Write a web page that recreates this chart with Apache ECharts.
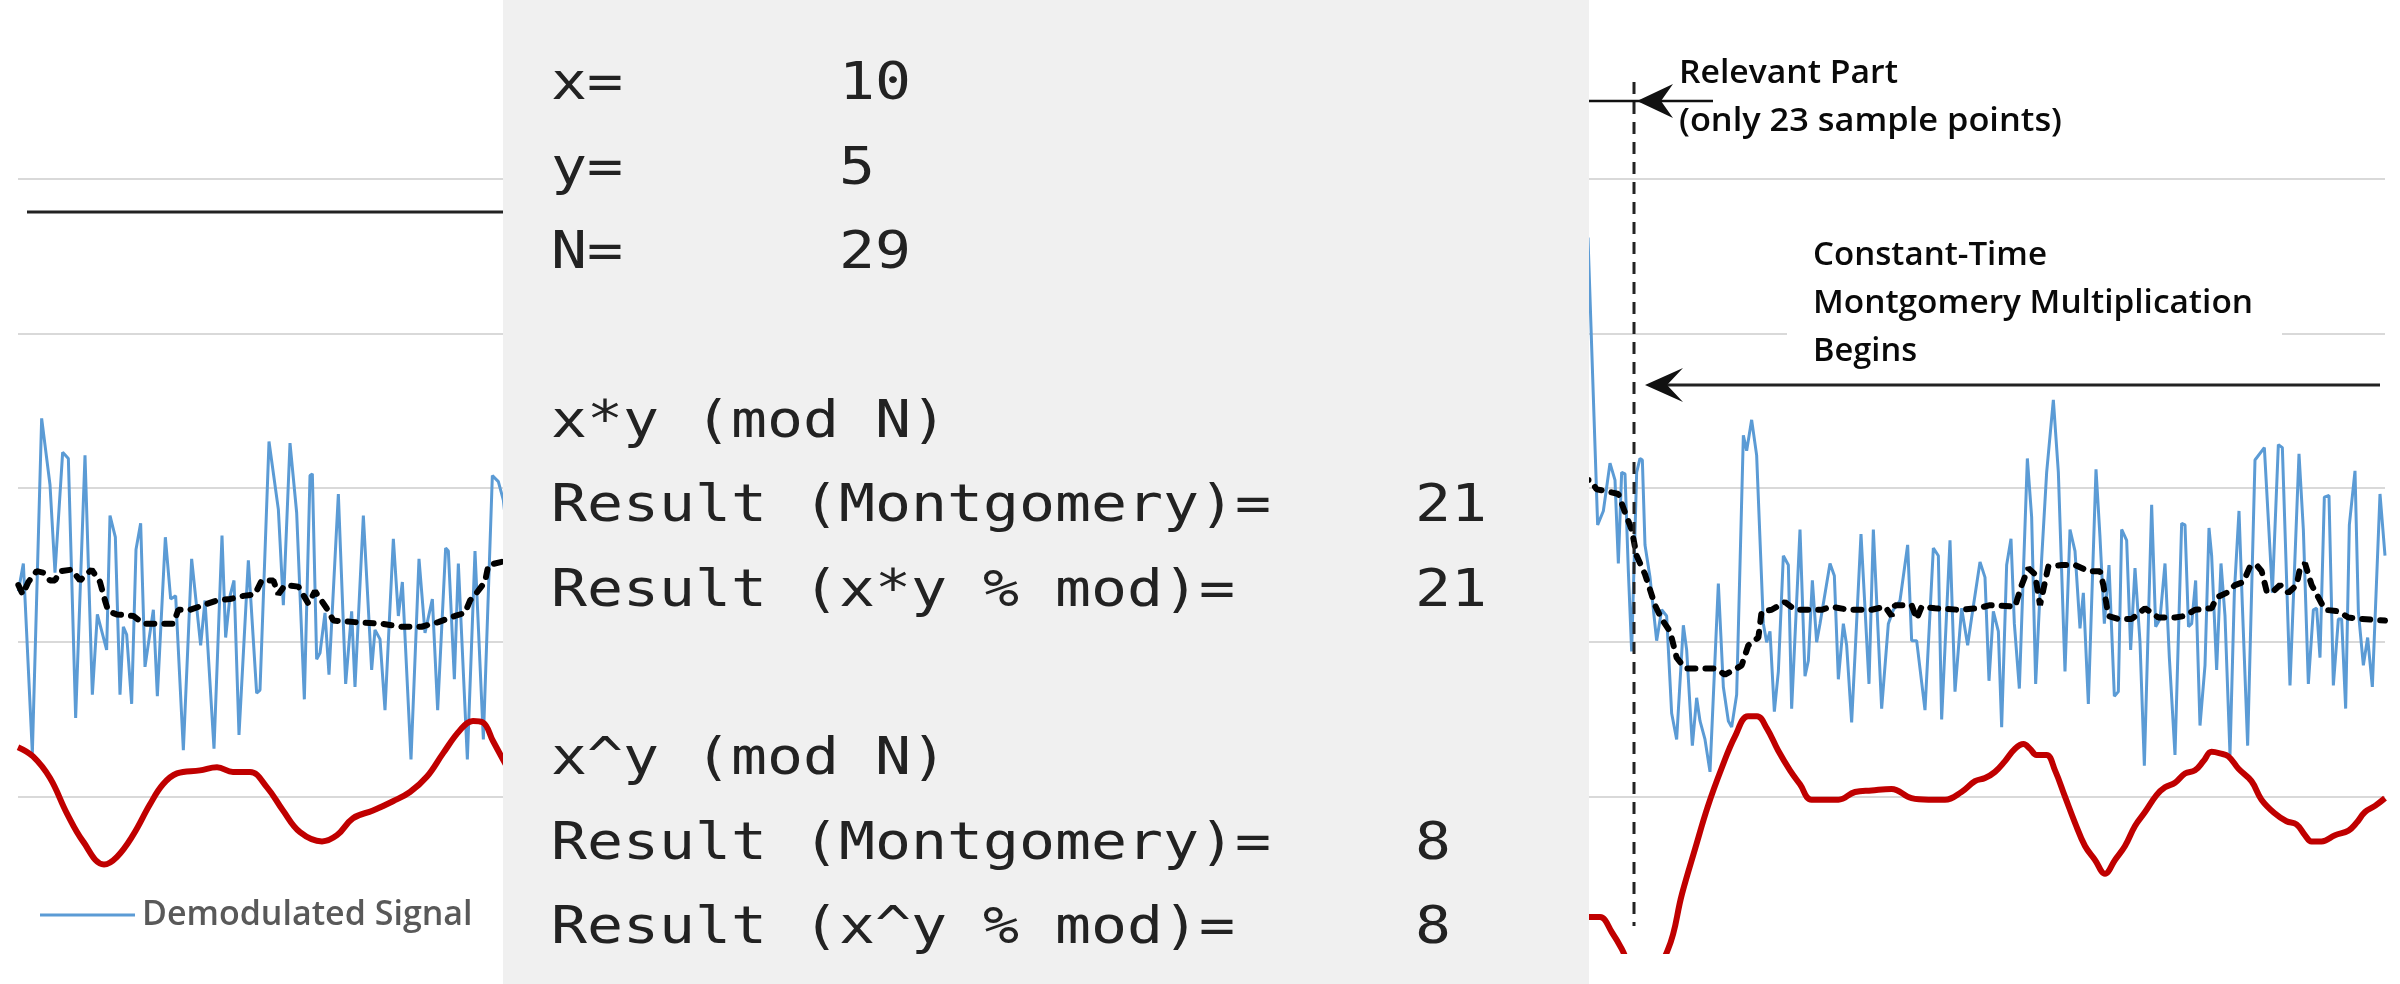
<!DOCTYPE html>
<html><head><meta charset="utf-8">
<script src="https://cdn.jsdelivr.net/npm/echarts@6/dist/echarts.min.js"></script>
<style>html,body{margin:0;padding:0;background:#fff}#c{width:2400px;height:984px}</style>
</head><body><div id="c"></div>
<script>
// ---- data (x = sample index, y = signal level) ----
const blueLeft = [[0.07,2.33],[1.07,2.51],[2.87,1.28],[4.73,3.45],[6.4,3.02],[7.4,2.45],[8.93,3.23],[10.07,3.19],[11.53,1.51],[13.4,3.21],[14.87,1.66],[15.87,2.18],[17.73,1.95],[18.4,2.82],[19.47,2.68],[20.4,1.66],[21.07,2.1],[21.73,2.05],[22.73,1.6],[23.6,2.6],[24.53,2.77],[25.4,1.84],[27.07,2.21],[27.87,1.65],[29.47,2.68],[30.53,2.28],[31.53,2.3],[33.07,1.3],[34.73,2.54],[36.53,1.98],[37.4,2.27],[39.2,1.31],[40.8,2.69],[41.53,2.03],[42.4,2.3],[43.2,2.4],[44.2,1.4],[46.07,2.53],[47.73,1.67],[48.4,1.69],[50.2,3.3],[52.07,2.86],[53.07,2.24],[54.4,3.29],[55.73,2.84],[57.27,1.63],[58.4,3.08],[58.87,3.09],[59.73,1.89],[60.4,1.93],[61.4,2.19],[62.2,1.79],[64.07,2.96],[65.53,1.73],[66.73,2.2],[67.4,1.71],[69.07,2.82],[70.73,1.82],[71.4,2.08],[72.4,2.02],[73.4,1.56],[75.07,2.67],[76.07,2.17],[76.87,2.39],[78.6,1.24],[80.2,2.54],[81.4,2.06],[82.87,2.28],[83.93,1.56],[85.53,2.61],[86.07,2.59],[87.27,1.76],[88.07,2.51],[89.87,1.24],[91.4,2.59],[93.07,1.37],[94.87,3.08],[96.07,3.04],[97.07,2.92],[98.5,2.5]];
const blueRight = [[312.5,3.0],[314.0,4.62],[315.93,2.76],[317.07,2.85],[318.4,3.16],[319.4,3.05],[320.07,2.51],[320.73,3.1],[321.4,3.09],[322.07,2.46],[322.73,1.94],[323.73,3.1],[324.4,3.19],[324.87,3.18],[325.4,2.63],[326.4,2.42],[327.73,2.01],[328.73,2.21],[329.73,2.17],[330.73,1.54],[331.73,1.37],[333.07,2.11],[333.73,1.95],[334.87,1.33],[335.73,1.64],[336.4,1.49],[337.4,1.37],[338.4,1.16],[340.07,2.38],[341.07,1.71],[342.07,1.49],[342.73,1.45],[343.73,1.66],[345.07,3.34],[345.73,3.24],[346.73,3.44],[347.73,3.21],[349.07,2.12],[349.73,2.0],[350.4,2.07],[351.27,1.55],[352.07,1.81],[353.07,2.56],[354.07,2.5],[354.73,1.57],[356.4,2.73],[357.4,1.78],[358.07,1.88],[358.87,2.4],[359.73,2.0],[360.4,2.12],[362.4,2.51],[363.27,2.43],[364.07,1.76],[365.07,2.12],[365.73,1.98],[366.73,1.48],[368.6,2.7],[369.4,2.22],[370.2,1.73],[371.07,2.73],[372.73,1.57],[374.07,2.12],[375.07,2.21],[376.4,2.27],[377.93,2.63],[378.73,2.01],[379.73,2.01],[381.4,1.56],[383.07,2.61],[384.07,2.56],[384.73,1.5],[386.4,2.66],[387.4,1.68],[388.73,2.22],[389.93,1.98],[390.73,2.16],[392.4,2.52],[393.4,2.42],[394.2,1.75],[395.07,2.2],[396.07,2.07],[396.73,1.45],[397.73,2.5],[398.6,2.67],[399.27,2.12],[400.27,1.7],[401.87,3.19],[402.73,2.81],[403.53,1.73],[404.73,2.54],[405.73,3.1],[407.07,3.57],[408.07,3.1],[409.4,1.81],[410.4,2.73],[411.4,2.59],[412.4,2.09],[413.07,2.32],[414.07,1.6],[415.6,3.12],[416.4,2.68],[417.27,2.12],[418.2,2.5],[419.27,1.65],[420.07,1.68],[420.73,2.73],[421.73,2.66],[422.53,1.95],[423.4,2.48],[424.4,2.0],[425.27,1.2],[426.73,2.89],[427.53,2.1],[428.4,2.15],[429.4,2.51],[430.27,1.9],[431.4,1.27],[432.73,2.77],[433.4,2.76],[434.1,2.1],[434.73,2.12],[435.53,2.4],[436.4,1.46],[437.4,1.85],[438.2,2.74],[438.73,2.56],[439.73,1.82],[440.6,2.51],[441.4,2.17],[442.4,1.27],[443.27,2.32],[444.2,2.85],[444.87,2.24],[445.93,1.33],[447.4,3.18],[449.27,3.26],[450.87,2.32],[452.07,3.28],[452.87,3.26],[454.4,1.72],[456.2,3.22],[457.07,2.73],[458.07,1.73],[459.07,2.21],[459.73,2.22],[460.4,1.9],[461.27,2.94],[462.2,2.95],[463.07,1.72],[464.07,2.15],[464.73,2.15],[465.53,1.57],[466.27,2.76],[467.4,3.11],[468.07,2.2],[469.07,1.85],[469.93,2.03],[470.87,1.71],[472.4,2.96],[473.4,2.56]];
const avgLeft = [[0.07,2.37],[0.93,2.31],[2.07,2.39],[3.73,2.46],[5.07,2.45],[6.4,2.4],[7.4,2.4],[8.4,2.46],[10.73,2.47],[12.4,2.4],[14.73,2.47],[16.4,2.39],[17.4,2.27],[18.07,2.2],[19.73,2.18],[23.07,2.17],[25.07,2.12],[28.4,2.12],[31.07,2.12],[32.07,2.21],[34.4,2.21],[37.07,2.24],[39.73,2.27],[42.4,2.28],[45.07,2.3],[47.4,2.31],[48.73,2.4],[51.07,2.4],[52.07,2.31],[53.4,2.37],[56.07,2.36],[58.07,2.25],[59.4,2.33],[61.73,2.22],[63.07,2.14],[67.4,2.13],[72.73,2.12],[76.73,2.1],[80.73,2.1],[84.07,2.13],[87.4,2.17],[89.4,2.19],[90.4,2.27],[91.73,2.32],[93.4,2.39],[94.07,2.5],[96.73,2.52],[98.5,2.53]];
const avgRight = [[312.5,3.05],[314.4,3.05],[315.73,2.99],[317.4,2.98],[320.07,2.96],[321.4,2.84],[322.73,2.73],[323.73,2.56],[325.4,2.44],[327.4,2.24],[328.73,2.15],[330.4,2.07],[331.73,1.9],[333.4,1.83],[336.73,1.83],[339.4,1.83],[341.4,1.79],[343.73,1.83],[344.73,1.85],[346.07,1.98],[348.07,2.03],[348.73,2.2],[350.73,2.21],[353.4,2.26],[355.4,2.21],[360.73,2.21],[362.73,2.23],[366.07,2.21],[370.73,2.21],[373.4,2.23],[374.73,2.17],[375.4,2.24],[378.73,2.24],[379.73,2.15],[380.73,2.23],[383.4,2.22],[388.07,2.21],[392.07,2.22],[394.4,2.24],[399.4,2.23],[400.73,2.37],[402.07,2.48],[403.4,2.44],[404.4,2.24],[405.4,2.39],[406.07,2.49],[408.73,2.5],[411.4,2.5],[414.07,2.46],[416.4,2.46],[417.07,2.37],[418.07,2.17],[420.07,2.15],[422.73,2.15],[425.4,2.22],[428.07,2.16],[431.4,2.16],[433.4,2.17],[435.4,2.21],[438.73,2.22],[439.73,2.29],[441.73,2.32],[443.4,2.37],[445.07,2.39],[446.4,2.49],[447.73,2.5],[448.73,2.46],[449.73,2.33],[450.73,2.32],[452.4,2.37],[454.07,2.32],[455.73,2.37],[456.4,2.48],[457.4,2.51],[458.73,2.37],[460.07,2.29],[461.4,2.21],[464.07,2.2],[466.07,2.16],[468.73,2.15],[473.4,2.14]];
const smoothLeft = [[0,1.32],[3.0,1.26],[6.4,1.12],[9.8,0.89],[13.0,0.71],[17.2,0.56],[19.8,0.61],[23.0,0.75],[26.4,0.95],[29.0,1.08],[31.8,1.15],[36.4,1.17],[39.8,1.19],[43.0,1.16],[46.4,1.16],[49.8,1.06],[53.0,0.91],[56.4,0.77],[60.8,0.71],[63.8,0.75],[67.0,0.86],[71.0,0.91],[75.0,0.97],[78.4,1.03],[81.8,1.13],[85.0,1.28],[88.4,1.43],[91.0,1.49],[93.0,1.48],[95.0,1.36],[97.0,1.24],[99.4,1.1]];
const smoothRight = [[312,0.2],[314.0,0.22],[316.4,0.22],[318.8,0.12],[320.8,0.01],[324.8,-0.25],[330.0,0.01],[332.8,0.37],[335.4,0.66],[338.0,0.94],[340.8,1.19],[343.4,1.39],[346.0,1.52],[347.8,1.52],[349.8,1.44],[352.0,1.3],[354.4,1.17],[356.4,1.08],[358.7,0.98],[364.1,0.98],[367.4,1.03],[370.7,1.04],[374.7,1.05],[378.7,0.99],[382.1,0.98],[385.4,0.98],[388.7,1.03],[391.4,1.1],[393.4,1.12],[395.4,1.16],[397.4,1.23],[399.4,1.31],[401.1,1.34],[402.4,1.31],[403.7,1.27],[405.7,1.27],[407.4,1.17],[409.4,1.0],[411.4,0.83],[413.4,0.68],[415.4,0.59],[417.4,0.5],[419.4,0.59],[421.4,0.68],[423.4,0.81],[425.4,0.9],[427.7,1.01],[429.4,1.06],[431.4,1.09],[433.4,1.15],[435.4,1.17],[437.1,1.23],[438.7,1.29],[440.4,1.28],[442.1,1.26],[444.1,1.18],[446.7,1.1],[448.7,0.98],[451.4,0.89],[453.7,0.84],[455.7,0.82],[457.4,0.75],[458.7,0.71],[460.7,0.71],[463.4,0.75],[466.1,0.78],[467.7,0.83],[469.4,0.9],[471.4,0.94],[473.4,0.99]];
const seriesNames = ['Demodulated Signal', 'Moving Average', 'Smoothed'];
const boxLines = ['x=      10','y=      5','N=      29','','x*y (mod N)','Result (Montgomery)=    21','Result (x*y % mod)=     21','','x^y (mod N)','Result (Montgomery)=    8','Result (x^y % mod)=     8'];
const annoRelevant = ['Relevant Part', '(only 23 sample points)'];
const annoConstant = ['Constant-Time', 'Montgomery Multiplication', 'Begins'];

// ---- layout helpers ----
const GAP = [[205, '-']];
const ctx = document.createElement('canvas').getContext('2d');
function measure(text, size, family, weight) { ctx.font = (weight || 'normal') + ' ' + size + 'px ' + family; return ctx.measureText(text).width; }

const graphics = [];
// gray overlay box
graphics.push({type:'rect', z:100, shape:{x:503, y:0, width:1086, height:984}, style:{fill:'#f0f0f0'}});
// monospace text
const monoSize = 52, monoFam = '"DejaVu Sans Mono"';
const monoScale = 36.0 / measure('0', monoSize, monoFam);
boxLines.forEach((t, i) => {
  if (!t) return;
  graphics.push({type:'text', z:101, x:551, y:103.6 + 84.4 * i - 0.346 * monoSize, scaleX: monoScale,
    style:{text:t, fontSize:monoSize, fontFamily:'DejaVu Sans Mono', fill:'#222', align:'left', verticalAlign:'middle'}});
});
// annotation text with fitted width
const annoSize = 32, annoFam = 'Open Sans', annoWeight = 600;
function annoText(t, left, baseline, width) {
  const s = width / measure(t, annoSize, '"' + annoFam + '"', annoWeight);
  graphics.push({type:'text', z:62, x:left, y:baseline - 0.36 * annoSize, scaleX:s,
    style:{text:t, fontSize:annoSize, fontFamily:annoFam, fontWeight:annoWeight, fill:'#0a0a0a', align:'left', verticalAlign:'middle'}});
}
annoText(annoRelevant[0], 1679, 85, 219);
annoText(annoRelevant[1], 1679, 133, 383);
// white label background
graphics.push({type:'rect', z:40, shape:{x:1787, y:200, width:495, height:176}, style:{fill:'#ffffff'}});
annoText(annoConstant[0], 1813, 267, 234);
annoText(annoConstant[1], 1813, 315, 440);
annoText(annoConstant[2], 1813, 363, 104);
// lines and arrows
graphics.push({type:'line', z:50, shape:{x1:27, y1:212, x2:520, y2:212}, style:{stroke:'#222', lineWidth:3}});
graphics.push({type:'line', z:50, shape:{x1:1634, y1:82, x2:1634, y2:926}, style:{stroke:'#222', lineWidth:3, lineDash:[12,8]}});
graphics.push({type:'line', z:50, shape:{x1:1560, y1:101, x2:1713, y2:101}, style:{stroke:'#111', lineWidth:2.5}});
graphics.push({type:'polygon', z:51, shape:{points:[[1637,101],[1673,84],[1661,101],[1673,118]]}, style:{fill:'#111'}});
graphics.push({type:'line', z:50, shape:{x1:1662, y1:385, x2:2380, y2:385}, style:{stroke:'#222', lineWidth:3}});
graphics.push({type:'polygon', z:51, shape:{points:[[1645,385],[1683,368],[1667,385],[1683,402]]}, style:{fill:'#111'}});

const chart = echarts.init(document.getElementById('c'), null, {renderer:'canvas'});
chart.setOption({
  animation:false,
  backgroundColor:'#ffffff',
  grid:{left:18, right:15, top:179, bottom:33},
  xAxis:{type:'value', min:0, max:473.4, show:false},
  yAxis:{type:'value', min:0, max:5, interval:1,
    axisLine:{show:false}, axisTick:{show:false}, axisLabel:{show:false},
    splitLine:{show:true, lineStyle:{width:2, color:['rgba(0,0,0,0)','#d9d9d9','#d9d9d9','#d9d9d9','#d9d9d9','#d9d9d9']}}},
  legend:{data:[seriesNames[0]], left:35, top:892, itemWidth:95, itemHeight:3, icon:'rect', itemGap:20,
    textStyle:{fontFamily:'Open Sans', fontWeight:600, fontSize:34, color:'#595959', padding:[0,0,0,2], lineHeight:36}},
  series:[
    {name:seriesNames[0], type:'line', z:2, showSymbol:false, silent:true, data:blueLeft.concat(GAP, blueRight),
      itemStyle:{color:'#5b9bd5'}, lineStyle:{color:'#5b9bd5', width:3}},
    {name:seriesNames[1], type:'line', z:3, showSymbol:false, silent:true, data:avgLeft.concat(GAP, avgRight),
      itemStyle:{color:'#000'}, lineStyle:{color:'#000', width:6, type:[8,10], cap:'round'}},
    {name:seriesNames[2], type:'line', z:4, showSymbol:false, silent:true, smooth:0.4, data:smoothLeft.concat(GAP, smoothRight),
      itemStyle:{color:'#c00000'}, lineStyle:{color:'#c00000', width:6}}
  ],
  graphic:{elements:graphics}
});
</script></body></html>
